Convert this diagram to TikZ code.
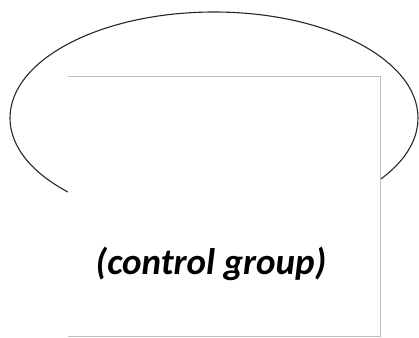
\documentclass[tikz,border=0pt]{standalone}
\usepackage{fontspec}
\setmainfont{Carlito}
\begin{document}
\begin{tikzpicture}[x=1pt,y=-1pt,
  ring/.style={draw=black!85,line width=1.1pt},
  panel/.style={draw=none,fill=white},
  paneledge/.style={draw=black!25,line width=0.9pt},
  lbl/.style={font=\fontsize{37}{44}\selectfont\bfseries\itshape,text=black}]
\useasboundingbox (0,0) rectangle (419,337);
\draw[ring] (214,118) ellipse [x radius=204, y radius=106];
\fill[panel] (68,76) rectangle (380,336);
\coordinate (tl) at (68,76);
\coordinate (tr) at (380,76);
\coordinate (br) at (380,336);
\coordinate (bl) at (68,336);
\draw[paneledge] (tl) -- (tr) -- (br) -- (bl);
\node[lbl] (t) at (211,264) {(control group)};
\end{tikzpicture}
\end{document}
